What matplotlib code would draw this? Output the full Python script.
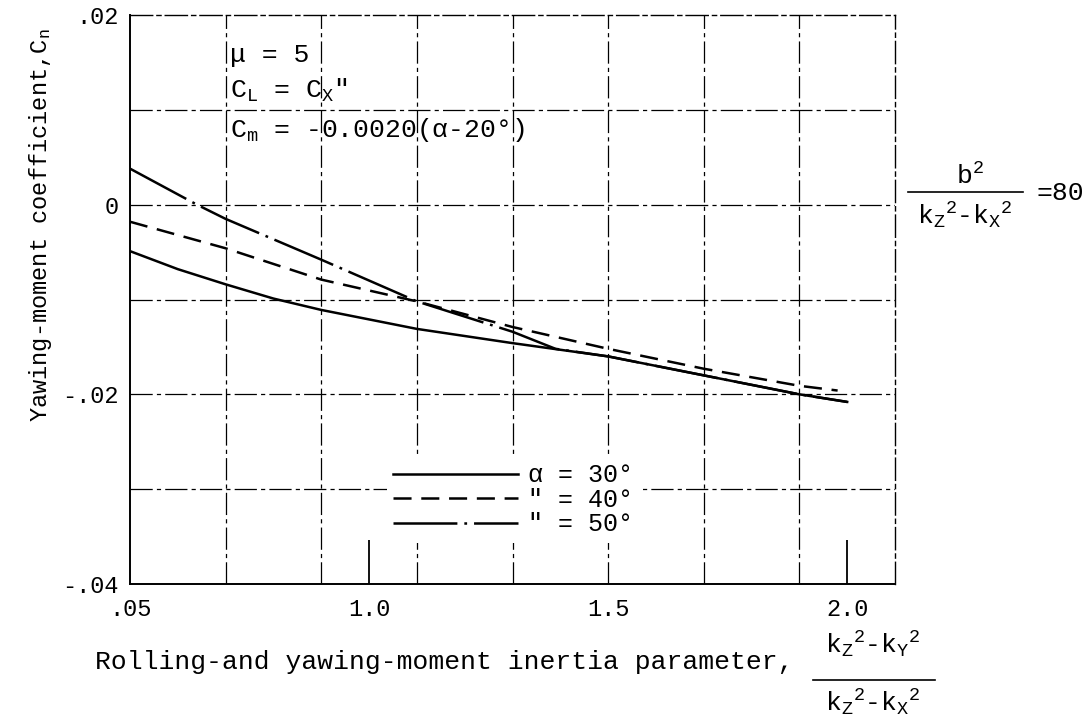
import numpy as np
import matplotlib.pyplot as plt
from matplotlib.lines import Line2D

plt.rcParams['font.family'] = ['Liberation Mono', 'DejaVu Sans']
plt.rcParams['mathtext.fontset'] = 'custom'
plt.rcParams['mathtext.rm'] = 'Liberation Mono'
plt.rcParams['mathtext.it'] = 'Liberation Mono'
plt.rcParams['mathtext.bf'] = 'Liberation Mono'
plt.rcParams['lines.scale_dashes'] = False

# inertia parameter (kZ^2-kY^2)/(kZ^2-kX^2) and yawing-moment coefficient Cn
x_30 = [0.5, 0.6, 0.7, 0.8, 0.9, 1.0, 1.1, 1.3, 1.5, 1.7, 1.9, 2.0]
cn_30 = [-0.0049, -0.0068, -0.0084, -0.0099, -0.0111, -0.0121, -0.0131, -0.0146, -0.0160,
         -0.0180, -0.0200, -0.0208]

x_40 = [0.5, 0.7, 0.9, 1.1, 1.3, 1.5, 1.7, 1.9, 1.98]
cn_40 = [-0.0018, -0.0046, -0.0079, -0.0102, -0.0129, -0.0152, -0.0173, -0.0191, -0.0196]

x_50 = [0.5, 0.64, 0.7, 0.9, 1.1, 1.3, 1.39, 1.5, 1.7, 1.9, 2.0]
cn_50 = [0.0038, 0.0, -0.0015, -0.0058, -0.0102, -0.0134, -0.0152, -0.0160, -0.0180, -0.0200, -0.0208]

labels = ['α = 30°', '" = 40°', '" = 50°']

xtick_pos = [0.5, 1.0, 1.5, 2.0]
xtick_txt = ['.05', '1.0', '1.5', '2.0']
ytick_pos = [-0.04, -0.02, 0.0, 0.02]
ytick_txt = ['-.04', '-.02', '0', '.02']
xgrid = [0.7, 0.9, 1.1, 1.3, 1.5, 1.7, 1.9]
ygrid = [-0.03, -0.02, -0.01, 0.0, 0.01]

W, H = 1091, 719
fig = plt.figure(figsize=(W / 100, H / 100), dpi=100)
ax = fig.add_axes([130 / W, 1 - 584 / H, 765 / W, 569 / H])

grid_style = (0, (16, 3, 3, 3))
for g in xgrid:
    ax.axvline(g, color='black', lw=0.9, ls=grid_style, zorder=1)
for g in ygrid:
    ax.axhline(g, color='black', lw=0.9, ls=grid_style, zorder=1)

ax.plot(x_30, cn_30, color='black', lw=1.8, ls='-', label=labels[0], zorder=3)
ax.plot(x_40, cn_40, color='black', lw=1.8, ls=(0, (13, 7)), label=labels[1], zorder=3)
ax.plot(x_50, cn_50, color='black', lw=1.8, ls=(0, (46, 5, 2, 5)), label=labels[2], zorder=3)

ax.set_xlim(0.5, 2.1)
ax.set_ylim(-0.04, 0.02)
ax.set_xticks(xtick_pos)
ax.set_xticklabels(xtick_txt, fontsize=17)
ax.set_yticks(ytick_pos)
ax.set_yticklabels(ytick_txt, fontsize=17)
ax.tick_params(axis='both', length=0)
ax.tick_params(axis='x', pad=10)
ax.tick_params(axis='y', pad=8)

# short solid marks at 1.0 and 2.0 on the bottom edge
sec = ax.secondary_xaxis('bottom')
sec.set_xticks([1.0, 2.0])
sec.set_xticklabels([])
sec.tick_params(direction='in', length=32, width=1.3)
sec.spines['bottom'].set_visible(False)

for side in ['left', 'bottom']:
    ax.spines[side].set_linewidth(1.4)
for side in ['top', 'right']:
    ax.spines[side].set_linewidth(1.0)
    ax.spines[side].set_linestyle(grid_style)

leg = ax.legend(loc='upper left', bbox_to_anchor=(0.336, 0.223), fontsize=18,
                handlelength=5.0, handletextpad=0.4, labelspacing=0.02,
                borderpad=0.25, borderaxespad=0, frameon=True, fancybox=False)
leg.get_frame().set_facecolor('white')
leg.get_frame().set_edgecolor('none')
leg.get_frame().set_alpha(1)
leg.set_zorder(5)

# flight condition notes
fig.text(230 / W, 1 - 55 / H, 'μ = 5', fontsize=19, va='center')
fig.text(230 / W, 1 - 90 / H, r'$\mathrm{C_L}$ = $\mathrm{C_X}$"', fontsize=19, va='center')
fig.text(230 / W, 1 - 130 / H, r'$\mathrm{C_m}$ = -0.0020(α-20°)', fontsize=19, va='center')

# b^2/(kZ^2-kX^2) = 80
fig.text(970 / W, 1 - 176 / H, r'b$^{\mathrm{2}}$', fontsize=19, ha='center', va='center')
fig.add_artist(Line2D([908 / W, 1023 / W], [1 - 192 / H, 1 - 192 / H], color='black', lw=1.2))
fig.text(965 / W, 1 - 216 / H, r'$\mathrm{k_Z}^{\mathrm{2}}$-$\mathrm{k_X}^{\mathrm{2}}$', fontsize=19,
         ha='center', va='center')
fig.text(1036 / W, 1 - 193 / H, '=80', fontsize=19, va='center')

fig.text(41 / W, 1 - 225 / H, r'Yawing-moment coefficient,$\mathrm{C_n}$', fontsize=17,
         rotation=90, ha='center', va='center')

fig.text(95 / W, 1 - 662 / H, 'Rolling-and yawing-moment inertia parameter,', fontsize=19,
         va='center')
fig.text(873 / W, 1 - 645 / H, r'$\mathrm{k_Z}^{\mathrm{2}}$-$\mathrm{k_Y}^{\mathrm{2}}$', fontsize=19,
         ha='center', va='center')
fig.add_artist(Line2D([813 / W, 935 / W], [1 - 680 / H, 1 - 680 / H], color='black', lw=1.2))
fig.text(873 / W, 1 - 703 / H, r'$\mathrm{k_Z}^{\mathrm{2}}$-$\mathrm{k_X}^{\mathrm{2}}$', fontsize=19,
         ha='center', va='center')

fig.savefig('out.png', dpi=100)
